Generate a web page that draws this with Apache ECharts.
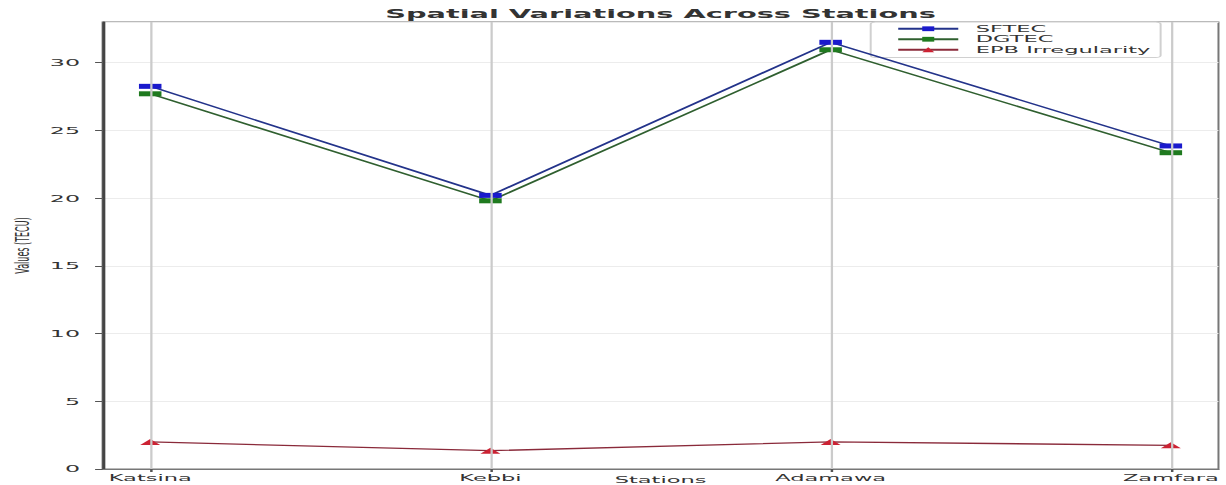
<!DOCTYPE html>
<html>
<head>
<meta charset="utf-8">
<script src="https://cdn.jsdelivr.net/npm/echarts@6/dist/echarts.min.js"></script>
<style>
  html, body { margin: 0; padding: 0; background: #fff; overflow: hidden; }
  /* the chart is laid out narrow and stretched sideways to the page width */
  #chart { width: 490px; height: 485px; transform: scaleX(2.502); transform-origin: 0 0; }
</style>
</head>
<body>
<div id="chart"></div>
<script>
const stations = ['Katsina', 'Kebbi', 'Adamawa', 'Zamfara'];
const sftec = [28.25, 20.2, 31.5, 23.85];
const dgtec = [27.7, 19.8, 30.95, 23.35];
const epb = [2.0, 1.35, 2.0, 1.75];
const yTicks = [0, 5, 10, 15, 20, 25, 30];
const seriesNames = ['SFTEC', 'DGTEC', 'EPB Irregularity'];

const font = 'DejaVu Sans';
const idx = stations.map((s, i) => i);
const pairs = vals => vals.map((v, i) => [i, v]);

const chart = echarts.init(document.getElementById('chart'), null, { renderer: 'svg' });

chart.setOption({
  animation: false,
  backgroundColor: '#fff',
  title: {
    text: 'Spatial Variations Across Stations',
    left: 264, top: 8, textAlign: 'center', padding: 0,
    textStyle: { fontFamily: font, fontSize: 11.5, fontWeight: 'bold', color: '#333' }
  },
  legend: {
    orient: 'vertical', left: 348, top: 22,
    data: seriesNames,
    itemWidth: 24, itemHeight: 6, itemGap: 1,
    padding: [2, 4, 3, 10],
    backgroundColor: 'rgba(255,255,255,0.85)',
    borderColor: '#d0d0d0', borderWidth: 0.8, borderRadius: 2,
    textStyle: { fontFamily: font, fontSize: 9, lineHeight: 9.5, color: '#333', padding: [0, 0, 0, 2] }
  },
  grid: {
    left: 41, right: 3, top: 22, bottom: 16,
    outerBoundsMode: 'none',
    show: true, borderColor: '#777', borderWidth: 0.8
  },
  xAxis: {
    type: 'value', min: -0.14, max: 3.14,
    name: 'Stations', nameLocation: 'middle', nameGap: 6, nameMoveOverlap: false,
    nameTextStyle: { fontFamily: font, fontSize: 9, color: '#333' },
    axisLine: { show: true, onZero: false, lineStyle: { color: '#777', width: 1 } },
    axisTick: { show: true, customValues: idx, length: 3, lineStyle: { color: '#555' } },
    axisLabel: {
      customValues: idx, margin: 4,
      formatter: v => stations[Math.round(v)],
      fontFamily: font, fontSize: 9, color: '#333'
    },
    splitLine: { show: false }
  },
  yAxis: {
    type: 'value', min: 0, max: 33, interval: 5,
    name: 'Values (TECU)', nameLocation: 'middle', nameGap: 28, nameMoveOverlap: false,
    nameTextStyle: { fontFamily: font, fontSize: 8, color: '#333' },
    axisLine: { show: true, onZero: false, lineStyle: { color: '#444', width: 1.2 } },
    axisTick: { show: true, length: 3, lineStyle: { color: '#555' } },
    axisLabel: {
      margin: 9, showMaxLabel: false,
      formatter: v => (yTicks.indexOf(v) >= 0 ? String(v) : ''),
      fontFamily: font, fontSize: 9.5, color: '#333'
    },
    splitLine: { show: true, lineStyle: { color: '#ececec', width: 1 } }
  },
  series: [
    {
      // vertical grid at each station
      type: 'line', name: 'grid', data: [], z: 1, silent: true,
      markLine: {
        silent: true, symbol: ['none', 'none'], label: { show: false },
        lineStyle: { color: '#cbcbcb', width: 0.9, type: 'solid' },
        data: idx.map(i => ({ xAxis: i }))
      }
    },
    {
      name: seriesNames[0], type: 'line', data: pairs(sftec), z: 4,
      symbol: 'rect', symbolSize: [9, 5],
      itemStyle: { color: '#1a1acc' },
      lineStyle: { color: '#23338a', width: 1.3 }
    },
    {
      name: seriesNames[1], type: 'line', data: pairs(dgtec), z: 3,
      symbol: 'rect', symbolSize: [9, 5],
      itemStyle: { color: '#1f7a1f' },
      lineStyle: { color: '#2f5f2f', width: 1.3 }
    },
    {
      name: seriesNames[2], type: 'line', data: pairs(epb), z: 3,
      symbol: 'triangle', symbolSize: [8, 6],
      itemStyle: { color: '#cc2233' },
      lineStyle: { color: '#8a2a3a', width: 1.3 }
    }
  ]
});
</script>
</body>
</html>
